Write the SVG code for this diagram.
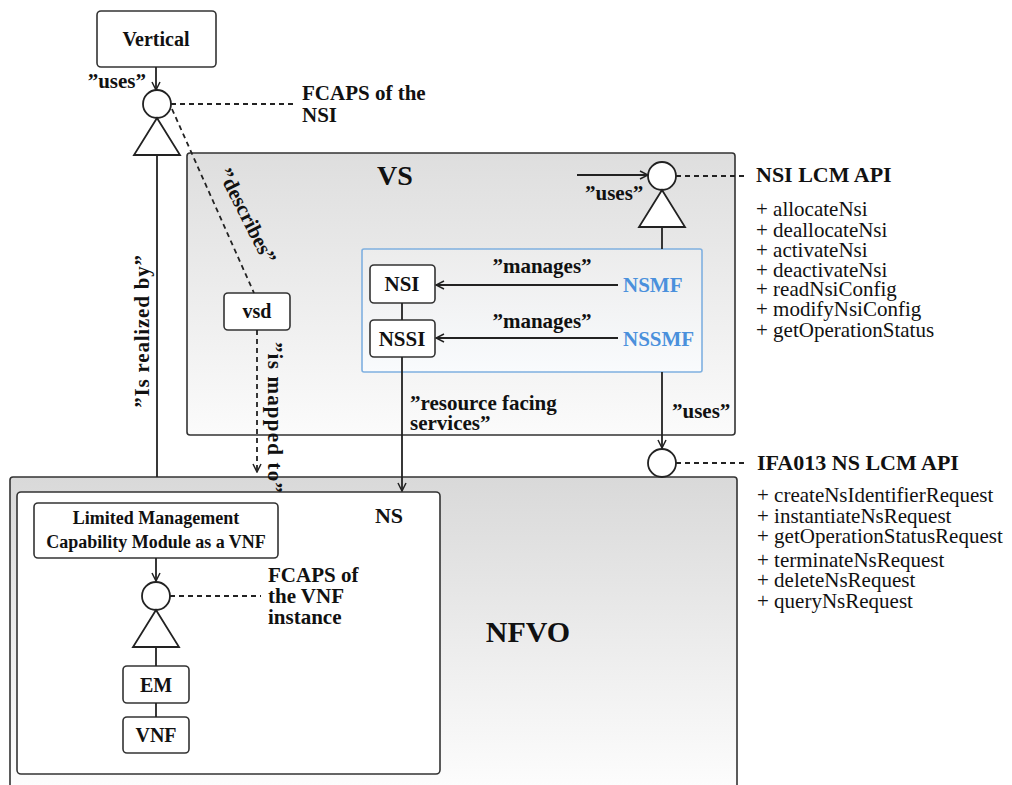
<svg xmlns="http://www.w3.org/2000/svg" width="1012" height="785" viewBox="0 0 1012 785" font-family="'Liberation Serif', 'Times New Roman', serif">
<defs>
<linearGradient id="gVS" x1="0" y1="0" x2="0" y2="1"><stop offset="0" stop-color="#dedede"/><stop offset="1" stop-color="#fbfbfb"/></linearGradient>
<linearGradient id="gNFVO" x1="0" y1="0" x2="0" y2="1"><stop offset="0" stop-color="#d9d9d9"/><stop offset="1" stop-color="#ffffff"/></linearGradient>
<linearGradient id="gBlue" x1="0" y1="0" x2="0" y2="1"><stop offset="0" stop-color="#ececec"/><stop offset="1" stop-color="#f9fbfd"/></linearGradient>
<marker id="arr" markerWidth="10" markerHeight="10" refX="9" refY="5" orient="auto" markerUnits="userSpaceOnUse"><path d="M1,1 L9,5 L1,9" fill="none" stroke="#222" stroke-width="1.5"/></marker>
<style>
text{font-family:'Liberation Serif','Times New Roman',serif;fill:#111}
.b{font-weight:bold}
.box{fill:#fff;stroke:#333;stroke-width:1.6}
.ln{fill:none;stroke:#222;stroke-width:1.8}
.dash{fill:none;stroke:#222;stroke-width:1.8;stroke-dasharray:5,4}
.ball{fill:#fff;stroke:#222;stroke-width:1.8}
.lbl{font-size:21px;font-weight:bold}
.m{font-size:21px}
.blue{fill:#4a90dc;font-weight:bold;font-size:21px}
</style>
</defs>

<g id="NFVO">
<rect x="10" y="477" width="727" height="330" rx="3" fill="url(#gNFVO)" stroke="#333" stroke-width="1.6"/>
<text x="528" y="642" text-anchor="middle" class="b" font-size="30">NFVO</text>
</g>

<g id="VS">
<rect x="187" y="153" width="548" height="282" rx="3" fill="url(#gVS)" stroke="#333" stroke-width="1.6"/>
<text x="395" y="185" text-anchor="middle" class="b" font-size="28">VS</text>
</g>

<g id="blue-group">
<rect x="362" y="249" width="340" height="123" rx="2" fill="url(#gBlue)" stroke="#7fb0e0" stroke-width="1.6"/>
</g>

<g id="NS">
<rect x="17" y="492" width="423" height="282" rx="4" class="box"/>
<text x="389" y="523" text-anchor="middle" class="b" font-size="22">NS</text>
</g>

<g id="Vertical">
<rect x="97" y="11" width="119" height="56" rx="4" class="box"/>
<text x="156" y="46" text-anchor="middle" class="b" font-size="20">Vertical</text>
</g>

<g id="vsd">
<rect x="224" y="293" width="66" height="37" rx="4" class="box"/>
<text x="257" y="318" text-anchor="middle" class="b" font-size="20">vsd</text>
</g>

<g id="NSI">
<rect x="370" y="265" width="65" height="38" rx="4" class="box"/>
<text x="402" y="291" text-anchor="middle" class="b" font-size="21">NSI</text>
</g>

<g id="NSSI">
<rect x="370" y="320" width="65" height="37" rx="4" class="box"/>
<text x="402" y="346" text-anchor="middle" class="b" font-size="21">NSSI</text>
</g>

<g id="NSMF"><text x="623" y="292" class="blue">NSMF</text></g>
<g id="NSSMF"><text x="623" y="346" class="blue">NSSMF</text></g>

<g id="LMCM">
<rect x="34" y="503" width="244" height="55" rx="4" class="box"/>
<text x="156" y="524" text-anchor="middle" class="b" font-size="18">Limited Management</text>
<text x="156" y="548" text-anchor="middle" class="b" font-size="18">Capability Module as a VNF</text>
</g>

<g id="EM">
<rect x="123" y="666" width="66" height="37" rx="4" class="box"/>
<text x="156" y="692" text-anchor="middle" class="b" font-size="20">EM</text>
</g>

<g id="VNF">
<rect x="123" y="717" width="66" height="36" rx="4" class="box"/>
<text x="156" y="742" text-anchor="middle" class="b" font-size="20">VNF</text>
</g>

<g id="iface-NSI-FCAPS">
<circle cx="157" cy="104" r="14" class="ball"/>
<path d="M157,118 L180,155 L134,155 Z" class="ball"/>
<text x="302" y="100" class="lbl">FCAPS of the</text>
<text x="302" y="122" class="lbl">NSI</text>
</g>

<g id="iface-NSI-LCM">
<circle cx="662" cy="176" r="14" class="ball"/>
<path d="M662,190 L685,227 L639,227 Z" class="ball"/>
<text x="756" y="182" class="b" font-size="22">NSI LCM API</text>
<text x="756" y="216" class="m">+ allocateNsi</text>
<text x="756" y="237" class="m">+ deallocateNsi</text>
<text x="756" y="257" class="m">+ activateNsi</text>
<text x="756" y="277" class="m">+ deactivateNsi</text>
<text x="756" y="296" class="m">+ readNsiConfig</text>
<text x="756" y="316" class="m">+ modifyNsiConfig</text>
<text x="756" y="337" class="m">+ getOperationStatus</text>
</g>

<g id="iface-IFA013">
<circle cx="662" cy="463" r="14" class="ball"/>
<text x="757" y="470" class="b" font-size="22">IFA013 NS LCM API</text>
<text x="757" y="502" class="m">+ createNsIdentifierRequest</text>
<text x="757" y="523" class="m">+ instantiateNsRequest</text>
<text x="757" y="543" class="m">+ getOperationStatusRequest</text>
<text x="757" y="567" class="m">+ terminateNsRequest</text>
<text x="757" y="587" class="m">+ deleteNsRequest</text>
<text x="757" y="608" class="m">+ queryNsRequest</text>
</g>

<g id="iface-VNF-FCAPS">
<circle cx="156" cy="596" r="14" class="ball"/>
<path d="M156,610 L179,647 L133,647 Z" class="ball"/>
<text x="268" y="582" class="lbl">FCAPS of</text>
<text x="268" y="603" class="lbl">the VNF</text>
<text x="268" y="624" class="lbl">instance</text>
</g>

<g id="connectors">
<line x1="156" y1="67" x2="156" y2="90" class="ln" marker-end="url(#arr)"/>
<text x="146" y="88" text-anchor="end" class="lbl">”uses”</text>
<line x1="171" y1="104" x2="296" y2="104" class="dash"/>
<line x1="157" y1="155" x2="157" y2="477" class="ln"/>
<text transform="translate(149,331) rotate(-90)" text-anchor="middle" class="lbl" font-size="23" letter-spacing="0.8">”Is realized by”</text>
<line x1="172" y1="109" x2="254" y2="293" class="dash"/>
<text transform="translate(241,219) rotate(63)" text-anchor="middle" class="lbl">”describes”</text>
<line x1="257" y1="330" x2="257" y2="472" class="dash" marker-end="url(#arr)"/>
<text transform="translate(268,418) rotate(90)" text-anchor="middle" class="lbl" font-size="23" letter-spacing="1.2">”is mapped to”</text>
<line x1="577" y1="175" x2="648" y2="175" class="ln" marker-end="url(#arr)"/>
<text x="585" y="200" class="lbl">”uses”</text>
<line x1="676" y1="176" x2="747" y2="176" class="dash"/>
<line x1="662" y1="227" x2="662" y2="249" class="ln"/>
<line x1="618" y1="285" x2="436" y2="285" class="ln" marker-end="url(#arr)"/>
<text x="542" y="273" text-anchor="middle" class="lbl">”manages”</text>
<line x1="618" y1="338" x2="436" y2="338" class="ln" marker-end="url(#arr)"/>
<text x="542" y="328" text-anchor="middle" class="lbl">”manages”</text>
<line x1="402" y1="303" x2="402" y2="320" class="ln"/>
<line x1="402" y1="357" x2="402" y2="491" class="ln" marker-end="url(#arr)"/>
<text x="410" y="410" class="lbl">”resource facing</text>
<text x="410" y="430" class="lbl">services”</text>
<line x1="662" y1="372" x2="662" y2="448" class="ln" marker-end="url(#arr)"/>
<text x="672" y="418" class="lbl">”uses”</text>
<line x1="676" y1="463" x2="747" y2="463" class="dash"/>
<line x1="156" y1="558" x2="156" y2="581" class="ln" marker-end="url(#arr)"/>
<line x1="170" y1="596" x2="261" y2="596" class="dash"/>
<line x1="156" y1="647" x2="156" y2="666" class="ln"/>
<line x1="156" y1="703" x2="156" y2="717" class="ln"/>
</g>
</svg>
